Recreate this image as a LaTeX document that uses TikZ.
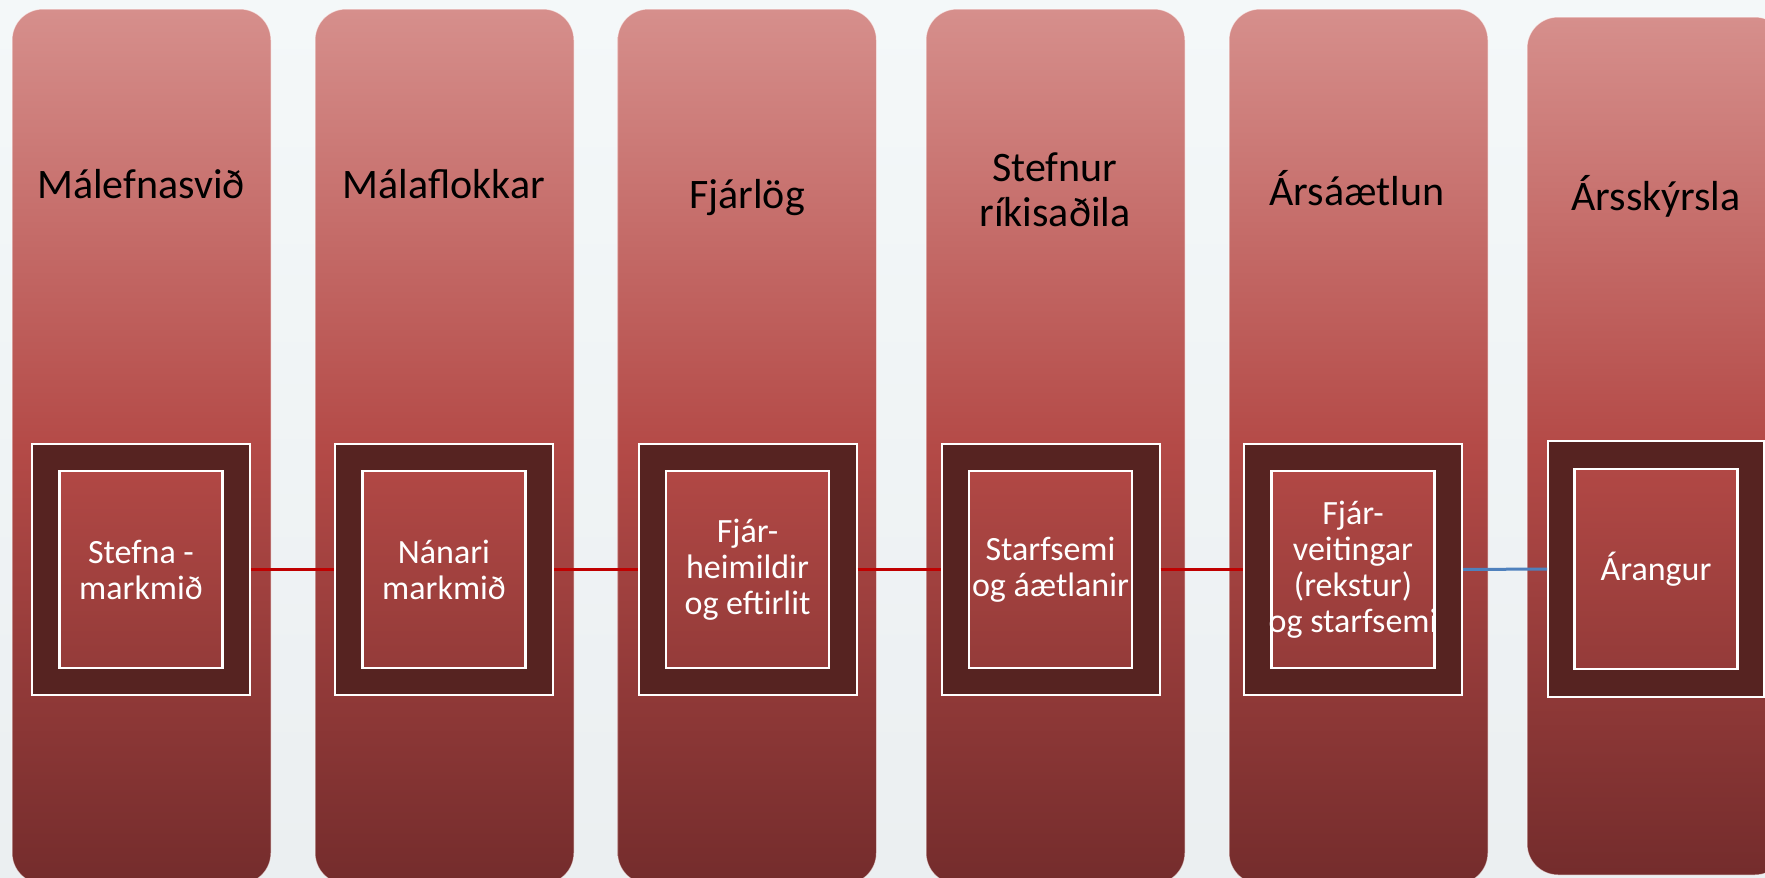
\documentclass[tikz,border=0pt]{standalone}
\usepackage{fontspec}
\setmainfont{Carlito}
\definecolor{bgTop}{RGB}{244,248,249}
\definecolor{bgBot}{RGB}{235,239,241}
\definecolor{colTop}{RGB}{214,143,140}
\definecolor{colMid}{RGB}{180,74,71}
\definecolor{colBot}{RGB}{116,44,44}
\definecolor{goalTop}{RGB}{177,72,69}
\definecolor{goalBot}{RGB}{148,59,57}
\definecolor{ringDark}{RGB}{86,35,33}
\definecolor{linkRed}{RGB}{192,0,0}
\definecolor{linkBlue}{RGB}{79,129,189}

\begin{document}
\begin{tikzpicture}[x=1pt, y=-1pt]
  \tikzset{colbox/.style={rectangle, rounded corners=31pt, top color=colTop, bottom color=colBot, middle color=colMid,
      draw=white, draw opacity=0.6, line width=1pt, inner sep=0pt, minimum width=259pt, minimum height=875pt},
    ringbox/.style={rectangle, fill=ringDark, draw=white, line width=2pt, inner sep=0pt, minimum width=218pt, minimum height=251pt},
    goalbox/.style={rectangle, top color=goalTop, bottom color=goalBot, draw=white, line width=2.5pt, inner sep=0pt, minimum width=163pt, minimum height=197pt},
    coltitle/.style={anchor=base, text=black, font=\fontsize{42}{45}\selectfont, align=center},
    goaltext/.style={text=white, font=\fontsize{34}{36}\selectfont, align=center, inner sep=0pt},
    redlink/.style={draw=linkRed, line width=3pt},
    bluelink/.style={draw=linkBlue, line width=3pt}}
  \useasboundingbox (0,0) rectangle (1765,878);
  \clip (0,0) rectangle (1765,878);
  % bakgrunnur
  \shade[top color=bgTop, bottom color=bgBot] (0,0) rectangle (1765,878);
  % dálkar
  \node[colbox] (col1) at (141.5,446.5) {};
  \node[colbox] (col2) at (444.5,446.5) {};
  \node[colbox] (col3) at (747,446.5) {};
  \node[colbox] (col4) at (1055.5,446.5) {};
  \node[colbox] (col5) at (1358.5,446.5) {};
  \node[colbox, minimum height=858pt] (col6) at (1656.5,446) {};
  % fyrirsagnir
  \node[coltitle] (title1) at (141,198) {Málefnasvið};
  \node[coltitle] (title2) at (444,198) {Málaflokkar};
  \node[coltitle] (title3) at (747,208) {Fjárlög};
  \node[coltitle, anchor=center] (title4) at (1055,190) {Stefnur\\ríkisaðila};
  \node[coltitle] (title5) at (1357,205) {Ársáætlun};
  \node[coltitle] (title6) at (1656,210) {Ársskýrsla};
  % rammar
  \node[ringbox] (ring1) at (141,569.5) {};
  \node[ringbox] (ring2) at (444,569.5) {};
  \node[ringbox] (ring3) at (747.5,569.5) {};
  \node[ringbox] (ring4) at (1050.5,569.5) {};
  \node[ringbox] (ring5) at (1353,569.5) {};
  \node[ringbox, minimum width=216pt, minimum height=256pt] (ring6) at (1656,569) {};
  % tengilínur
  \draw[redlink] (ring1.east) -- (ring2.west);
  \draw[redlink] (ring2.east) -- (ring3.west);
  \draw[redlink] (ring3.east) -- (ring4.west);
  \draw[redlink] (ring4.east) -- (ring5.west);
  \draw[bluelink] (ring5.east) -- (ring6.west);
  % markmið
  \node[goalbox] (goal1) at (ring1) {};
  \node[goalbox] (goal2) at (ring2) {};
  \node[goalbox] (goal3) at (ring3) {};
  \node[goalbox] (goal4) at (ring4) {};
  \node[goalbox] (goal5) at (ring5) {};
  \node[goalbox, minimum height=200pt] (goal6) at (ring6) {};
  \node[goaltext] (text1) at (goal1) {Stefna -\\markmið};
  \node[goaltext] (text2) at (goal2) {Nánari\\markmið};
  \node[goaltext] (text3) at (goal3) {Fjár-\\heimildir\\og eftirlit};
  \node[goaltext] (text4) at (goal4) {Starfsemi\\og áætlanir};
  \node[goaltext] (text5) at (goal5) {Fjár-\\veitingar\\(rekstur)\\og starfsemi};
  \node[goaltext] (text6) at (goal6) {Árangur};
\end{tikzpicture}
\end{document}
